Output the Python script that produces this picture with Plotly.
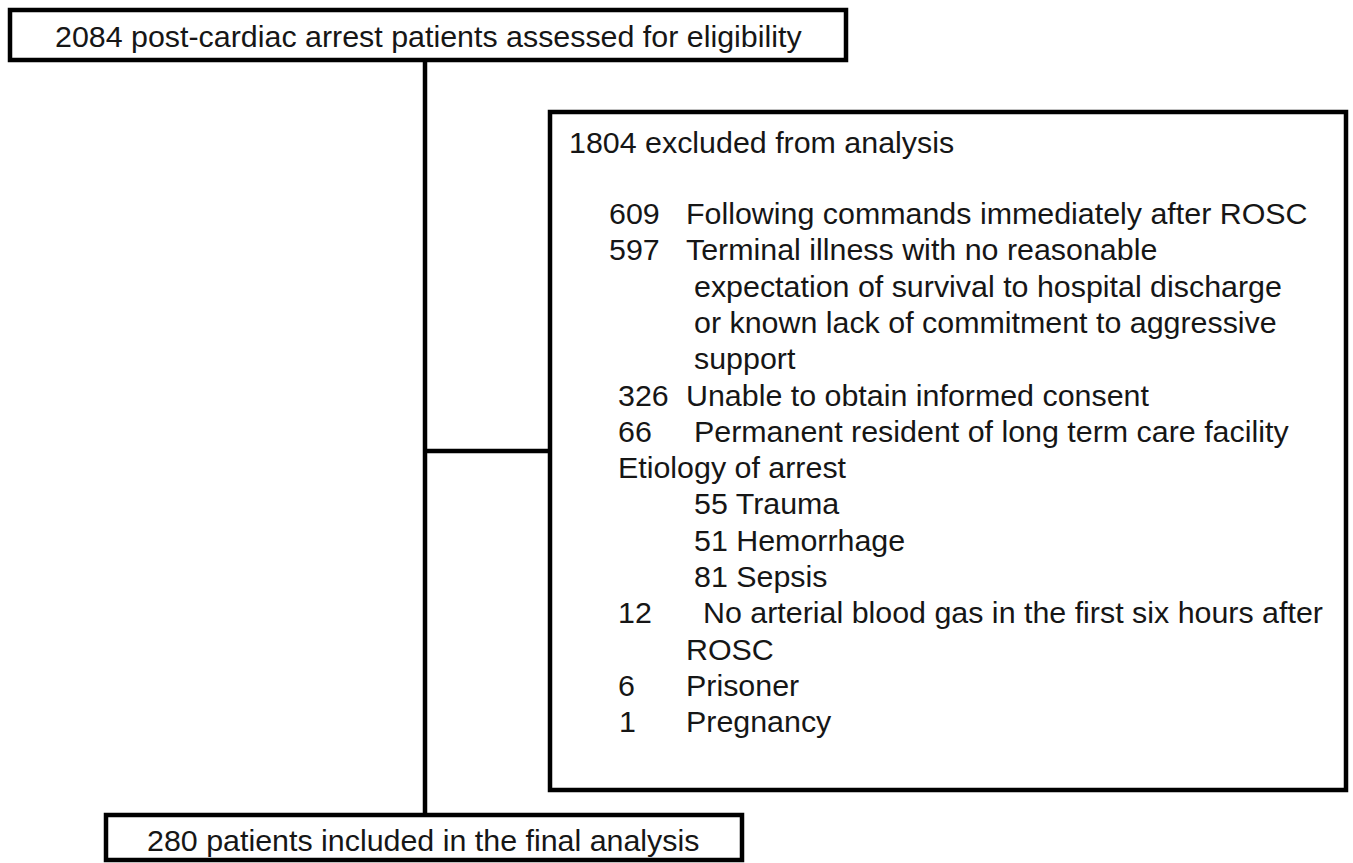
import plotly.graph_objects as go

# ---------------- data ----------------
assessed_total = 2084
assessed_text = "post-cardiac arrest patients assessed for eligibility"
excluded_total = 1804
excluded_text = "excluded from analysis"
included_total = 280
included_text = "patients included in the final analysis"

exclusion_counts = [609, 597, 326, 66, 12, 6, 1]
exclusion_reasons = [
    ["Following commands immediately after ROSC"],
    ["Terminal illness with no reasonable",
     "expectation of survival to hospital discharge",
     "or known lack of commitment to aggressive",
     "support"],
    ["Unable to obtain informed consent"],
    ["Permanent resident of long term care facility"],
    ["No arterial blood gas in the first six hours after", "ROSC"],
    ["Prisoner"],
    ["Pregnancy"],
]
etiology_heading = "Etiology of arrest"
etiology_counts = [55, 51, 81]
etiology_labels = ["Trauma", "Hemorrhage", "Sepsis"]

# ---------------- layout / style ----------------
W, H = 1353, 863
FONT = dict(family="Liberation Sans, Arial, sans-serif", size=30.4, color="#161616")
LW = 4.5

fig = go.Figure()
fig.add_trace(go.Scatter(x=[0, W], y=[0, H], mode="markers",
                         marker=dict(opacity=0), hoverinfo="skip", showlegend=False))

def box(x0, y0, x1, y1):
    fig.add_shape(type="rect", xref="x", yref="y", x0=x0, y0=y0, x1=x1, y1=y1,
                  line=dict(color="black", width=LW), fillcolor="rgba(0,0,0,0)")

def line(x0, y0, x1, y1):
    fig.add_shape(type="line", xref="x", yref="y", x0=x0, y0=y0, x1=x1, y1=y1,
                  line=dict(color="black", width=LW))

def text(x, y, s, anchor="left"):
    fig.add_annotation(x=x, y=y, xref="x", yref="y", text=s, showarrow=False,
                       xanchor=anchor, yanchor="middle", font=FONT)

# boxes and connectors
box(10, 10, 846, 60)          # top box
box(550, 112, 1346, 790)      # exclusion box
box(106, 815, 742, 860)       # bottom box
line(425, 60, 425, 815)       # vertical trunk
line(425, 451, 550, 451)      # branch to exclusion box

# top / bottom texts
text(428, 36, f"{assessed_total} {assessed_text}", anchor="center")
text(423, 840, f"{included_total} {included_text}", anchor="center")

# exclusion box content
text(567, 142, f"{excluded_total} {excluded_text}")

y0, dy = 213, 36.3
count_x = [607, 607, 616, 616, 616, 616, 617]
label_x = [684, 684, 684, 692, 701, 684, 684]
cont_x = [692, 692, 692, 692, 684, 684, 684]

row = 0
for i, (c, lines) in enumerate(zip(exclusion_counts, exclusion_reasons)):
    if i == 4:
        # etiology block inserted before the "12" entry
        text(616, y0 + dy * row, etiology_heading)
        row += 1
        for ec, el in zip(etiology_counts, etiology_labels):
            text(692, y0 + dy * row, f"{ec} {el}")
            row += 1
    text(count_x[i], y0 + dy * row, str(c))
    text(label_x[i], y0 + dy * row, lines[0])
    row += 1
    for extra in lines[1:]:
        text(cont_x[i], y0 + dy * row, extra)
        row += 1

fig.update_layout(
    width=W, height=H,
    margin=dict(l=0, r=0, t=0, b=0),
    paper_bgcolor="white", plot_bgcolor="white",
    xaxis=dict(range=[0, W], visible=False, fixedrange=True),
    yaxis=dict(range=[H, 0], visible=False, fixedrange=True),
    showlegend=False,
)

fig.write_html("out.html",
               config={"displayModeBar": False},
               post_script="document.body.style.margin='0';document.body.style.overflow='hidden';")
